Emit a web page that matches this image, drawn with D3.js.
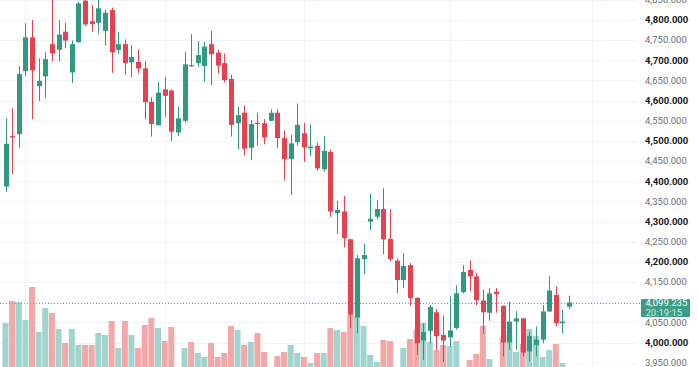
<!DOCTYPE html>
<html lang="en">
<head>
  <meta charset="UTF-8">
  <title>Candles</title>
  <script src="https://d3js.org/d3.v7.min.js"></script>
  <style>
    body, html {
      margin: 0;
      padding: 0;
      overflow: hidden;
      width: 100%;
      height: 100%;
      background: #fff;
    }
    svg {
      display: block;
    }
    .tick-label {
      font-family: Roboto, "Noto Sans", sans-serif;
      font-size: 9.5px;
    }
  </style>
</head>
<body>
  <svg width="698" height="367"></svg>
  <script>
    // OHLC, one entry per bar
    const opens  = [4387, 4512, 4517, 4673, 4757, 4636, 4660, 4740, 4726, 4771, 4670, 4745, 4848, 4797, 4793, 4773, 4825, 4726, 4740, 4695,
                    4696, 4680, 4597, 4539, 4628, 4625, 4521, 4550, 4688, 4693, 4686, 4740, 4719, 4693, 4654, 4544, 4570, 4483, 4545, 4544,
                    4550, 4570, 4507, 4455, 4497, 4519, 4482, 4488, 4430, 4473, 4321, 4325, 4256, 4062, 4207, 4300, 4312, 4331, 4257, 4203,
                    4155, 4192, 4111, 4005, 4029, 4075, 4019, 4013, 4036, 4125, 4180, 4164, 4104, 4074, 4126, 4091, 4000, 4052, 4060, 3978,
                    3994, 4007, 4077, 4118, 4048, 4089];
    const highs  = [4556, 4581, 4686, 4792, 4800, 4705, 4720, 4862, 4800, 4793, 4749, 4845, 4854, 4837, 4857, 4825, 4831, 4771, 4752, 4738,
                    4727, 4698, 4608, 4646, 4659, 4628, 4585, 4721, 4765, 4748, 4746, 4773, 4726, 4717, 4664, 4585, 4589, 4552, 4570, 4554,
                    4579, 4579, 4526, 4515, 4593, 4545, 4541, 4496, 4512, 4479, 4352, 4364, 4258, 4217, 4245, 4369, 4354, 4383, 4331, 4209,
                    4222, 4197, 4112, 4048, 4093, 4083, 4067, 4115, 4142, 4192, 4203, 4173, 4131, 4135, 4135, 4092, 4102, 4078, 4061, 4027,
                    4040, 4093, 4165, 4139, 4081, 4116];
    const lows   = [4374, 4418, 4483, 4661, 4554, 4599, 4607, 4698, 4698, 4730, 4644, 4744, 4785, 4771, 4767, 4736, 4669, 4716, 4664, 4658,
                    4668, 4554, 4511, 4538, 4559, 4500, 4512, 4545, 4684, 4684, 4647, 4639, 4668, 4645, 4511, 4479, 4464, 4453, 4488, 4492,
                    4549, 4482, 4402, 4366, 4488, 4448, 4463, 4426, 4424, 4312, 4269, 4236, 4036, 4023, 4170, 4279, 4306, 4219, 4201, 4122,
                    4135, 4091, 3969, 3957, 3998, 3982, 3952, 3990, 4032, 4122, 4128, 4093, 4021, 4054, 4074, 3965, 3982, 3982, 3965, 3953,
                    3965, 3998, 4076, 4040, 4023, 4083];
    const closes = [4493, 4509, 4666, 4757, 4675, 4649, 4703, 4717, 4764, 4749, 4740, 4841, 4789, 4790, 4829, 4818, 4720, 4740, 4693, 4708,
                    4680, 4596, 4542, 4620, 4612, 4523, 4556, 4690, 4685, 4713, 4734, 4715, 4687, 4651, 4540, 4564, 4481, 4542, 4542, 4509,
                    4570, 4507, 4455, 4494, 4540, 4484, 4486, 4432, 4475, 4325, 4329, 4259, 4069, 4209, 4217, 4307, 4331, 4256, 4207, 4155,
                    4190, 4110, 3998, 4026, 4088, 4016, 4005, 4030, 4122, 4175, 4164, 4105, 4075, 4122, 4120, 4000, 4052, 4060, 3975, 4016,
                    4007, 4077, 4129, 4048, 4052, 4099.235];
    const volumes = [52, 74, 73, 55, 88, 43, 67, 62, 46, 32, 46, 30, 30, 30, 42, 40, 54, 27, 54, 40,
                     27, 50, 57, 47, 34, 48, 5, 27, 33, 22, 18, 32, 18, 22, 49, 45, 30, 33, 42, 23,
                     5, 19, 23, 30, 22, 18, 12, 22, 22, 47, 45, 43, 60, 59, 49, 20, 13, 35, 34, 5,
                     27, 36, 45, 52, 33, 25, 30, 29, 34, 5, 15, 21, 49, 16, 5, 37, 40, 23, 31, 46,
                     39, 18, 25, 31, 12, 5];

    const priceTicks = d3.range(3950, 4851, 50);
    const monthStarts = [3, 24, 45, 67, 88.5];   // bar index of vertical grid lines
    const lastPrice = 4099.235;
    const lastTime = '20:19:15';

    const up = '#2f9a80';
    const down = '#e5424f';
    const upVol = '#9fd5ce';
    const downVol = '#f2a8a9';

    const svg = d3.select('svg');
    const plotRight = 637;

    const x = d3.scaleLinear().domain([0, 85]).range([5.5, 5.5 + 6.63 * 85]);
    const y = d3.scaleLinear().domain([3950, 4800]).range([362.7, 20]);
    const yVol = d3.scaleLinear().domain([0, 100]).range([375, 275]);

    const bars = opens.map((o, i) => ({
      i, o, h: highs[i], l: lows[i], c: closes[i], v: volumes[i], rising: closes[i] >= o
    }));

    // grid
    const grid = svg.append('g');
    grid.selectAll('line.h')
      .data(priceTicks)
      .join('line')
      .attr('x1', 0).attr('x2', plotRight)
      .attr('y1', d => Math.round(y(d)) + 0.5)
      .attr('y2', d => Math.round(y(d)) + 0.5)
      .attr('stroke', '#f0f3fa');
    grid.selectAll('line.v')
      .data(monthStarts)
      .join('line')
      .attr('x1', d => Math.round(x(d)) + 0.5)
      .attr('x2', d => Math.round(x(d)) + 0.5)
      .attr('y1', 0).attr('y2', 367)
      .attr('stroke', '#f0f3fa');

    // volume
    svg.append('g')
      .selectAll('rect')
      .data(bars)
      .join('rect')
      .attr('x', d => x(d.i) - 3)
      .attr('width', 6)
      .attr('y', d => yVol(d.v))
      .attr('height', d => yVol(0) - yVol(d.v))
      .attr('fill', d => d.rising ? upVol : downVol);

    // last price line
    svg.append('line')
      .attr('x1', 0).attr('x2', 641)
      .attr('y1', Math.round(y(lastPrice)) + 0.5)
      .attr('y2', Math.round(y(lastPrice)) + 0.5)
      .attr('stroke', '#7f9c97')
      .attr('stroke-dasharray', '1,2');

    // candles
    const candle = svg.append('g')
      .selectAll('g')
      .data(bars)
      .join('g');
    candle.append('line')
      .attr('x1', d => Math.round(x(d.i)) + 0.5)
      .attr('x2', d => Math.round(x(d.i)) + 0.5)
      .attr('y1', d => y(d.h))
      .attr('y2', d => y(d.l))
      .attr('stroke', d => d.rising ? up : down);
    candle.append('rect')
      .attr('x', d => Math.round(x(d.i)) + 0.5 - 2.5)
      .attr('width', 5)
      .attr('y', d => y(Math.max(d.o, d.c)))
      .attr('height', d => Math.max(1, Math.abs(y(d.o) - y(d.c))))
      .attr('fill', d => d.rising ? up : down);

    // price axis
    const fmt = d3.format(',.3f');
    svg.append('g')
      .selectAll('text')
      .data(priceTicks)
      .join('text')
      .attr('class', 'tick-label')
      .attr('x', 645)
      .attr('y', d => y(d))
      .attr('dy', '0.35em')
      .attr('fill', d => d % 100 === 0 ? '#131722' : '#6a6d78')
      .attr('font-weight', d => d % 100 === 0 ? 'bold' : 'normal')
      .text(d => fmt(d));

    // last price tag
    const tag = svg.append('g');
    tag.append('rect')
      .attr('x', 641).attr('y', 299)
      .attr('width', 49).attr('height', 18)
      .attr('rx', 1)
      .attr('fill', '#3c9c84');
    tag.append('text')
      .attr('class', 'tick-label')
      .attr('x', 645.5).attr('y', 303)
      .attr('dy', '0.35em')
      .attr('fill', '#fff')
      .text(fmt(lastPrice));
    tag.append('text')
      .attr('class', 'tick-label')
      .attr('x', 645.5).attr('y', 312.5)
      .attr('dy', '0.35em')
      .attr('fill', 'rgba(255,255,255,0.8)')
      .text(lastTime);
  </script>
</body>
</html>
